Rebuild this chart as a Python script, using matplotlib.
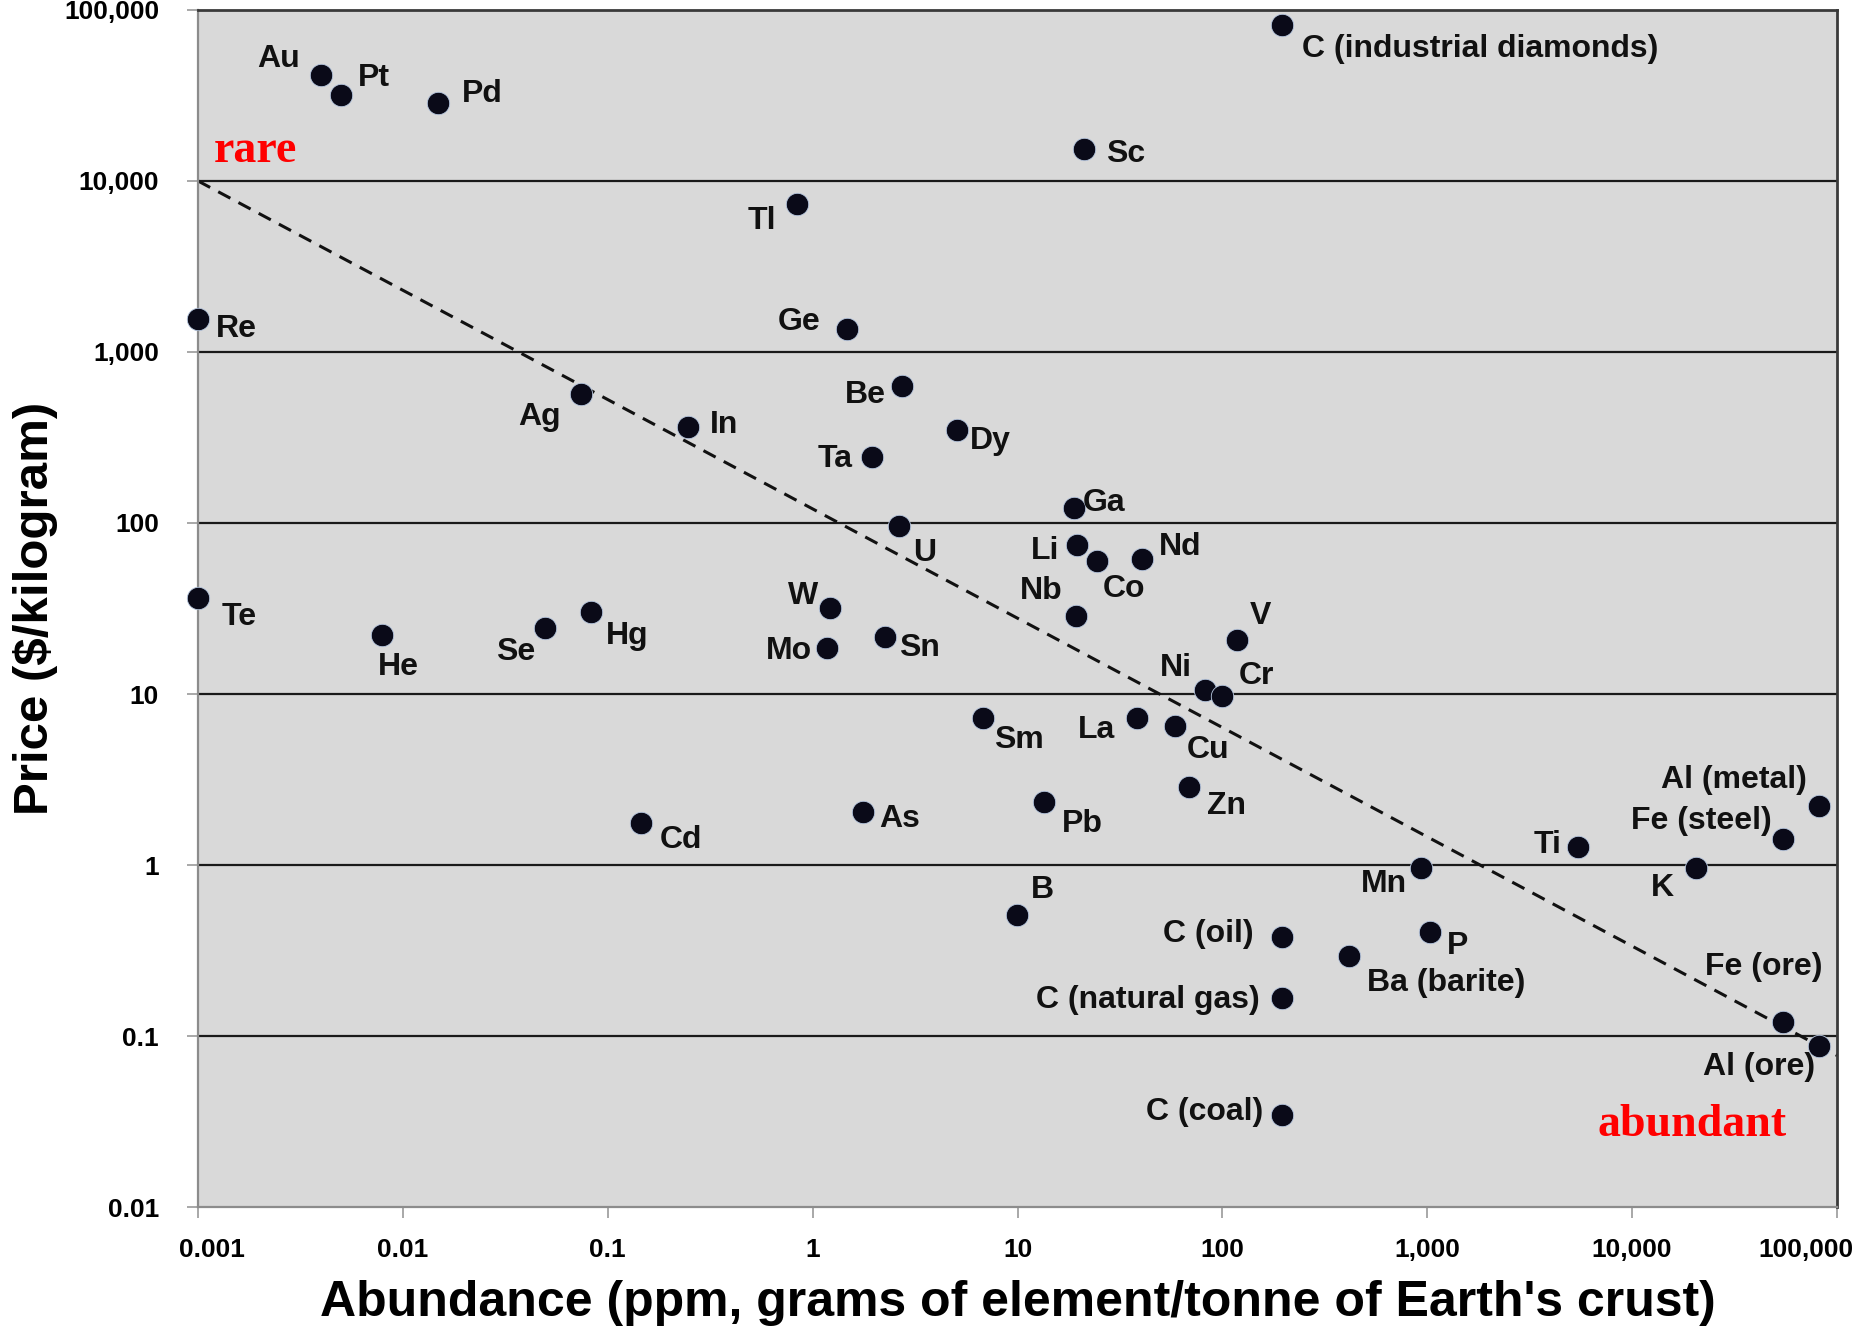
import matplotlib.pyplot as plt
import matplotlib.ticker as mticker
from matplotlib.transforms import ScaledTranslation

# element labels, crustal abundance (ppm) and price ($/kg)
labels = ["Au", "Pt", "Pd", "C (industrial diamonds)", "Sc", "Tl", "Re", "Ge",
          "Be", "Ag", "In", "Dy", "Ta", "Ga", "U", "Li", "Co", "Nd", "Te", "Nb",
          "W", "Hg", "Se", "He", "V", "Sn", "Mo", "Ni", "Cr", "Sm", "La", "Cu",
          "Zn", "Pb", "As", "Cd", "Al (metal)", "Fe (steel)", "Ti", "K", "Mn",
          "B", "P", "C (oil)", "Ba (barite)", "C (natural gas)", "Fe (ore)",
          "Al (ore)", "C (coal)"]
abundance = [0.0040, 0.0050, 0.0148, 196, 21.2, 0.84, 0.001, 1.47,
             2.72, 0.0743, 0.247, 5.08, 1.95, 18.8, 2.65, 19.5, 24.5, 40.7, 0.001, 19.3,
             1.22, 0.0826, 0.0492, 0.0079, 118, 2.26, 1.17, 82.6, 99.6, 6.8, 38.1, 58.5,
             68.6, 13.5, 1.77, 0.145, 81500, 54600, 5430, 20600, 935,
             9.9, 1026, 196, 415, 196, 54600,
             81500, 196]
price = [41700, 31800, 28500, 81800, 15300, 7330, 1556, 1368,
         635, 568, 363, 352, 244, 122, 96.4, 74.6, 59.7, 61.6, 36.4, 28.6,
         32, 30, 24.4, 22.2, 20.8, 21.5, 18.6, 10.5, 9.7, 7.25, 7.25, 6.49,
         2.87, 2.33, 2.05, 1.75, 2.22, 1.42, 1.27, 0.966, 0.966,
         0.51, 0.408, 0.377, 0.292, 0.167, 0.121,
         0.088, 0.0343]

# dashed trend line end points
trend_x = [0.001, 100000]
trend_y = [10000, 0.077]

xticks = [0.001, 0.01, 0.1, 1, 10, 100, 1000, 10000, 100000]
yticks = [0.01, 0.1, 1, 10, 100, 1000, 10000, 100000]

# label placement: (alignment, dx, dy) in screen px of the reference (dy down)
placement = {
    "Au": ("right", -18, -13), "Pt": ("left", 14, -14), "Pd": ("left", 20, -8),
    "C (industrial diamonds)": ("left", 17, 20), "Sc": ("left", 18, 4),
    "Tl": ("right", -18, 14), "Re": ("left", 15, 8), "Ge": ("right", -22, -6),
    "Be": ("right", -13, 8), "Ag": ("right", -17, 19), "In": ("left", 18, -2),
    "Dy": ("left", 11, 10), "Ta": ("right", -16, 2), "Ga": ("left", 8, -4),
    "U": ("left", 12, 23), "Li": ("right", -15, 5), "Co": ("left", 5, 23),
    "Nd": ("left", 14, -10), "Te": ("left", 20, 16), "Nb": ("right", -11, -21),
    "W": ("right", -10, -10), "Hg": ("left", 13, 20), "Se": ("right", -8, 20),
    "He": ("left", -3, 27), "V": ("left", 11, -20), "Sn": ("left", 12, 9),
    "Mo": ("right", -12, 3), "Ni": ("right", -11, -19), "Cr": ("left", 14, -17),
    "Sm": ("left", 9, 19), "La": ("right", -18, 10), "Cu": ("left", 10, 20),
    "Zn": ("left", 15, 16), "Pb": ("left", 15, 18), "As": ("left", 13, 6),
    "Cd": ("left", 16, 14), "Al (metal)": ("right", -10, -22),
    "Fe (steel)": ("right", -10, -15), "Ti": ("right", -14, -2),
    "K": ("right", -19, 17), "Mn": ("right", -12, 14), "B": ("left", 12, -21),
    "P": ("left", 15, 12), "C (oil)": ("right", -24, -3),
    "Ba (barite)": ("left", 15, 22), "C (natural gas)": ("right", -19, 2),
    "Fe (ore)": ("right", 33, -46), "Al (ore)": ("right", -3, 18),
    "C (coal)": ("right", -16, -3),
}
px2pt = 0.855

plt.rcParams['font.family'] = ['Liberation Sans', 'DejaVu Sans']

fig = plt.figure(figsize=(18.61, 13.27), dpi=100)
ax = fig.add_axes([0.1064, 0.0904, 0.8807, 0.9021])
ax.set_facecolor('#d9d9d9')
ax.set_xscale('log')
ax.set_yscale('log')
ax.set_xlim(0.001, 100000)
ax.set_ylim(0.01, 100000)

# horizontal grid lines at every decade
for yv in yticks[1:-1]:
    ax.axhline(yv, color='#1a1a1a', lw=1.6, zorder=1)

ax.plot(trend_x, trend_y, color='#111111', lw=2.2, ls=(0, (4.5, 3)), zorder=2)

ax.scatter(abundance, price, s=260, color='#0a0a18', edgecolors='#b8c8e0',
           linewidths=0.6, zorder=3, clip_on=False)

for name, xv, yv in zip(labels, abundance, price):
    ha, dx, dy = placement[name]
    ax.annotate(name, (xv, yv), xytext=(dx * px2pt, -dy * px2pt),
                textcoords='offset points', ha=ha, va='center',
                fontsize=23, fontweight='bold', color='#111111', zorder=4)

ax.text(0.0098, 0.882, "rare", transform=ax.transAxes, color='#ff0000',
        fontsize=33, fontweight='bold', family='Liberation Serif',
        ha='left', va='center')
ax.text(0.969, 0.0685, "abundant", transform=ax.transAxes, color='#ff0000',
        fontsize=33, fontweight='bold', family='Liberation Serif',
        ha='right', va='center')

fmt = mticker.FuncFormatter(lambda v, p: f"{v:,.0f}" if v >= 1 else f"{v:g}")
ax.xaxis.set_major_locator(mticker.FixedLocator(xticks))
ax.yaxis.set_major_locator(mticker.FixedLocator(yticks))
ax.xaxis.set_minor_locator(mticker.NullLocator())
ax.yaxis.set_minor_locator(mticker.NullLocator())
ax.xaxis.set_major_formatter(fmt)
ax.yaxis.set_major_formatter(fmt)
ax.tick_params(axis='x', length=8, width=1.2, color='#999999', pad=14,
               labelsize=19)
ax.tick_params(axis='y', length=8, width=1.2, color='#999999', pad=20,
               labelsize=19)

fig.canvas.draw()
xlabs = ax.get_xticklabels()
for lab in xlabs + ax.get_yticklabels():
    lab.set_fontweight('bold')
# end labels sit inside the axis span, as in the original
xlabs[0].set_transform(xlabs[0].get_transform()
                       + ScaledTranslation(0.14, 0, fig.dpi_scale_trans))
xlabs[-1].set_transform(xlabs[-1].get_transform()
                        + ScaledTranslation(-0.31, 0, fig.dpi_scale_trans))

for side in ['left', 'bottom']:
    ax.spines[side].set_color('#8c8c8c')
    ax.spines[side].set_linewidth(1.6)
for side in ['top', 'right']:
    ax.spines[side].set_color('#3a3a3a')
    ax.spines[side].set_linewidth(2)

ax.set_xlabel("Abundance (ppm, grams of element/tonne of Earth's crust)",
              fontsize=36, fontweight='bold', labelpad=13)
ax.set_ylabel("Price ($/kilogram)", fontsize=35.5, fontweight='bold',
              labelpad=4)

fig.savefig('out.png', dpi=100)
